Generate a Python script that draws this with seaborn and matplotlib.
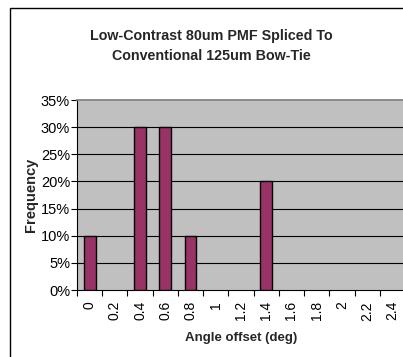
import matplotlib
matplotlib.use("Agg")
import matplotlib.pyplot as plt
import seaborn as sns
import pandas as pd
from matplotlib.patches import Rectangle
from matplotlib.ticker import FixedLocator, PercentFormatter

categories = ["0", "0.2", "0.4", "0.6", "0.8", "1", "1.2", "1.4", "1.6", "1.8", "2", "2.2", "2.4"]
bar_categories = ["0", "0.4", "0.6", "0.8", "1.4"]
bar_values = [10, 30, 30, 10, 20]
yticks = [0, 5, 10, 15, 20, 25, 30, 35]

sns.set_theme(style="white")
plt.rcParams['font.family'] = ['Liberation Sans', 'DejaVu Sans']

fig = plt.figure(figsize=(4.03, 3.57), dpi=100)
fig.patch.set_facecolor("white")
fig.patches.append(Rectangle((10/403, -0.1), 1.2, 1 - 8/357 + 0.1, transform=fig.transFigure,
                             fill=False, edgecolor="black", linewidth=1.0))

W, H = 403, 357
ax = fig.add_axes([77/W, 1 - 290/H, (405 - 77)/W, (290 - 100)/H])
ax.set_facecolor("#C0C0C0")

df = pd.DataFrame({"angle": bar_categories, "freq": bar_values})
sns.barplot(data=df, x="angle", y="freq", order=categories, color="#993366",
            saturation=1, width=0.47, edgecolor="black", linewidth=1.0, ax=ax, zorder=3)

ax.set_xlim(-0.5, len(categories) - 0.5)
ax.set_ylim(0, 35)
ax.set_yticks(yticks)
ax.yaxis.set_major_formatter(PercentFormatter(decimals=0))
for y in yticks[1:-1]:
    ax.axhline(y, color="black", linewidth=0.8, zorder=1)

ax.set_xticks(range(len(categories)))
ax.set_xticklabels(categories, rotation=90)
ax.xaxis.set_minor_locator(FixedLocator([i - 0.5 for i in range(len(categories) + 1)]))
ax.tick_params(axis="x", which="major", length=0, pad=8, labelsize=10, colors="black")
ax.tick_params(axis="x", which="minor", length=4, width=0.8, direction="out", color="black", bottom=True)
ax.tick_params(axis="y", length=4, width=0.8, direction="out", left=True, labelsize=10.5, pad=1, colors="black")

for s in ["left", "bottom"]:
    ax.spines[s].set_color("black")
    ax.spines[s].set_linewidth(0.8)
ax.spines["top"].set_color("#808080")
ax.spines["right"].set_visible(False)

ax.set_xlabel("Angle offset (deg)", fontsize=9.5, fontweight="bold", labelpad=8)
ax.set_ylabel("Frequency", fontsize=10.5, fontweight="bold", labelpad=2)

fig.text(211/W, 1 - 46/H, "Low-Contrast 80um PMF Spliced To\nConventional 125um Bow-Tie",
         ha="center", va="center", fontsize=10.3, fontweight="bold", linespacing=1.6)

fig.savefig("out.png", dpi=100, facecolor="white")
